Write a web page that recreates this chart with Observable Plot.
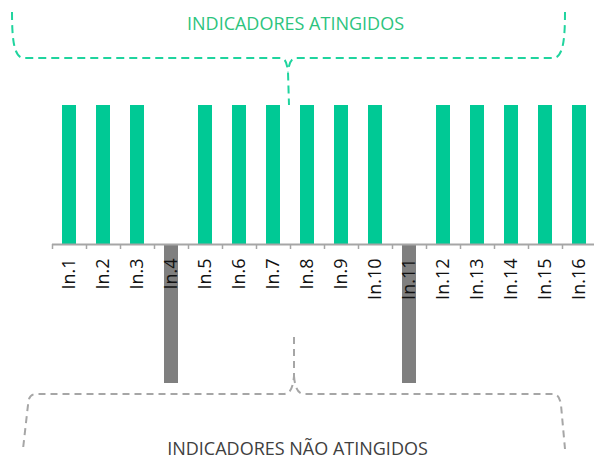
<!DOCTYPE html>
<html><head><meta charset="utf-8">
<script src="https://cdn.jsdelivr.net/npm/d3@7"></script>
<script src="https://cdn.jsdelivr.net/npm/@observablehq/plot@0.6"></script>
<style>html,body{margin:0;padding:0;background:#fff;overflow:hidden}</style>
</head><body><div id="chart"></div>
<script>
const categories = ["In.1","In.2","In.3","In.4","In.5","In.6","In.7","In.8","In.9","In.10","In.11","In.12","In.13","In.14","In.15","In.16"];
const values = [1,1,1,-1,1,1,1,1,1,1,-1,1,1,1,1,1];
const titleTop = "INDICADORES ATINGIDOS";
const titleBottom = "INDICADORES NÃO ATINGIDOS";

const data = categories.map((c, i) => ({cat: c, value: values[i]}));
const GREEN = "#00c995", GRAY = "#7f7f7f";
const FONT = "Open Sans";

function braces() {
  const g = d3.create("svg:g").attr("fill", "none").attr("stroke-width", 2);
  g.append("path")
    .attr("stroke", "#1fd49e").attr("stroke-dasharray", "8,5")
    .attr("d", "M12,12 C12,40 14,58 24,58 L280,58 C285,58 287,62 288,72 L289,105 M565,12 C565,40 563,58 553,58 L296,58 C292,58 289,62 288,72");
  g.append("path")
    .attr("stroke", "#a6a6a6").attr("stroke-dasharray", "7,5")
    .attr("d", "M294,337 L294,376 C293,388 290,394 284,394 L36,394 C31,394 28,398 28,405 L23,449 M294,376 C295,388 298,394 304,394 L553,394 C558,394 560,398 561,405 L565,449");
  return g.node();
}

const chart = Plot.plot({
  width: 594,
  height: 458,
  marginLeft: 52,
  marginRight: -2,
  marginTop: 105,
  marginBottom: 75,
  style: {fontFamily: FONT, background: "#fff"},
  x: {domain: categories, paddingInner: 0.59, paddingOuter: 0.295, axis: null},
  y: {domain: [-1, 1], axis: null},
  marks: [
    braces,
    Plot.barY(data, {x: "cat", y: "value", fill: d => d.value > 0 ? GREEN : GRAY}),
    Plot.ruleY([0], {stroke: "#a6a6a6", strokeWidth: 2}),
    Plot.ruleX(categories, {x: d => d, dx: -17, y1: 0, y2: -0.036, stroke: "#a6a6a6", strokeWidth: 1.5}),
    Plot.text(data, {x: "cat", y: 0, text: "cat", rotate: -90, textAnchor: "end", lineAnchor: "middle", dy: 14, fontSize: 18, fontFamily: FONT, fill: "#111"}),
    Plot.text([titleTop], {frameAnchor: "top", text: d => d, dx: -29, dy: -76, lineAnchor: "bottom", fontSize: 18, fontFamily: FONT, fill: "#2cc47e"}),
    Plot.text([titleBottom], {frameAnchor: "bottom", text: d => d, dx: -27, dy: 71, lineAnchor: "bottom", fontSize: 18, fontFamily: FONT, fill: "#404040"})
  ]
});
document.getElementById("chart").appendChild(chart);
</script>
</body></html>
